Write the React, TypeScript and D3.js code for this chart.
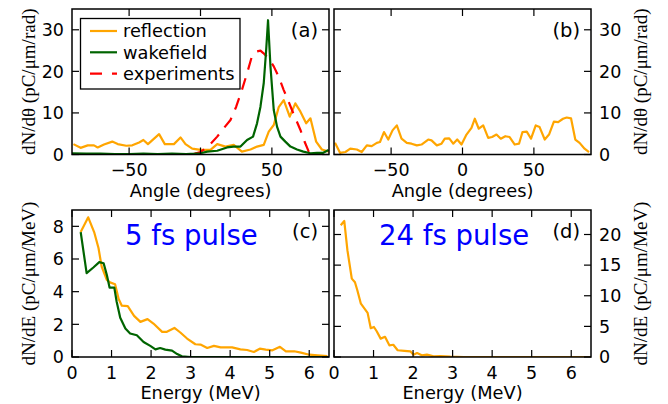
import React from "react";
import * as d3 from "d3";

// ---------- DATA ----------
// Panel (a): angle distribution, 5 fs pulse
const reflA_angle = [-89, -84, -79, -74.6, -72, -67.6, -61.8, -58, -52, -47.8, -43, -40, -36.8, -29, -25, -18.6, -14, -10.5, -5.8, 0, 7, 11.7, 17.5, 23.3, 29, 35, 39.6, 44.3, 47.8, 51.3, 54.8, 58.3, 62.5, 66.4, 70, 74, 77, 81, 85, 90];
const reflA_value = [2.5, 1.6, 2.2, 2.2, 1.7, 2.4, 3.1, 2.5, 2.1, 2.2, 2.9, 3.5, 2.5, 4.9, 2.5, 2.5, 4.1, 2.5, 1.4, 1.1, 1.1, 2.5, 1.9, 2.3, 0.7, 1.2, 1.9, 2.3, 5.5, 7.1, 11.4, 13.1, 9.1, 12.3, 10.3, 7.5, 8.7, 3.1, 1.2, 0.7];

const wakeA_angle = [-90, -80, -70, -60, -50, -40, -30, -20, -10, -4, 0, 4.7, 11.7, 18.6, 23, 28, 32.6, 36.8, 39.6, 42, 44.3, 46, 47.3, 49, 51.3, 53.6, 56, 59.4, 63, 67.6, 72, 77, 81.6, 86, 89.7];
const wakeA_value = [0.3, 0.2, 0.2, 0.1, 0.1, 0.2, 0.1, 0.2, 0.1, 0.2, 0.3, 0.7, 0.9, 1.7, 1.9, 1.9, 3.5, 4.3, 7.5, 11.5, 17.2, 25.2, 32.3, 21.2, 10.7, 6.7, 4.3, 3.1, 1.9, 1.2, 0.7, 0.3, 0.4, 0.4, 1.1];

const expA_angle = [-5, 0, 5, 11.7, 16, 21, 25, 29, 33, 36, 39.6, 42, 44, 48, 51.3, 55, 58.3, 62, 65, 70, 73, 75.8, 78];
const expA_value = [0.1, 0.6, 1.8, 4.3, 6.2, 8.3, 11.5, 15.5, 20, 23.6, 24.8, 25, 24.4, 23, 21.2, 18.5, 15.5, 12.5, 9.9, 5.9, 3, 0.7, 0.1];

// Panel (b): angle distribution, 24 fs pulse
const reflB_angle = [-89.3, -85.8, -82, -78.6, -74, -70.6, -67, -63.6, -60, -57.8, -55, -52, -49, -46, -42.7, -39, -35.7, -32, -28.7, -24, -21.7, -18, -14.7, -12.4, -9.3, -6.5, -3.7, -0.7, 2.8, 6.3, 8.6, 11.4, 14.5, 18, 20.7, 23.8, 26.8, 30, 33, 36.6, 39.6, 42, 45, 48, 51.3, 54, 57.6, 60.6, 64, 67, 70.4, 73, 76, 79, 82, 85.5, 88.6];
const reflB_value = [2.8, 0.4, 0.6, 1.4, 1.2, 0.6, 2.2, 2.0, 2.8, 3.0, 5.4, 3.6, 5.8, 7.0, 3.8, 2.8, 2.6, 2.2, 2.4, 3.6, 3.4, 2.2, 2.6, 3.8, 3.9, 2.6, 3.6, 2.4, 4.8, 6.4, 8.6, 6.2, 7.0, 4.0, 4.2, 4.8, 3.8, 4.4, 4.2, 2.4, 2.6, 5.4, 5.5, 3.8, 7.0, 6.6, 3.6, 4.8, 7.9, 7.8, 8.6, 8.9, 8.7, 3.6, 2.8, 1.4, 0.6];

// Panel (c): energy spectrum, 5 fs pulse
const reflC_energy = [0.22, 0.41, 0.56, 0.67, 0.75, 0.88, 0.96, 1.09, 1.18, 1.26, 1.41, 1.57, 1.73, 1.91, 2.06, 2.28, 2.4, 2.59, 2.74, 2.91, 3.12, 3.25, 3.42, 3.59, 3.76, 4.05, 4.26, 4.43, 4.6, 4.75, 4.9, 5.07, 5.26, 5.41, 5.62, 5.79, 6.0, 6.21, 6.46];
const reflC_value = [7.65, 8.55, 7.65, 6.67, 5.54, 4.72, 4.57, 4.45, 3.55, 3.14, 3.12, 2.52, 2.15, 2.32, 2.05, 1.54, 1.54, 1.78, 1.5, 1.13, 0.78, 0.76, 0.55, 0.68, 0.59, 0.59, 0.47, 0.43, 0.31, 0.51, 0.45, 0.41, 0.62, 0.35, 0.35, 0.27, 0.14, 0.1, 0.06];

const wakeC_energy = [0.22, 0.37, 0.54, 0.69, 0.8, 0.88, 0.95, 1.07, 1.13, 1.22, 1.35, 1.47, 1.64, 1.81, 1.98, 2.11, 2.23, 2.36, 2.53, 2.66, 2.78, 3.0, 4.0, 5.0, 6.0, 6.5];
const wakeC_value = [7.65, 5.13, 5.48, 5.81, 5.74, 5.03, 4.25, 4.25, 3.38, 2.4, 1.74, 1.44, 1.33, 0.92, 0.68, 0.47, 0.55, 0.45, 0.39, 0.18, 0.04, 0, 0, 0, 0, 0];

// Panel (d): energy spectrum, 24 fs pulse
const reflD_energy = [0.17, 0.26, 0.34, 0.45, 0.53, 0.59, 0.68, 0.85, 0.93, 1.01, 1.08, 1.18, 1.29, 1.4, 1.5, 1.61, 1.78, 1.93, 2.01, 2.1, 2.22, 2.35, 2.52, 2.69, 2.94, 3.28, 4.0, 5.0, 6.0, 6.5];
const reflD_value = [21.5, 22.2, 17.4, 12.8, 12.2, 10.9, 8.7, 7.2, 4.7, 4.9, 4.2, 3.0, 3.3, 1.9, 2.0, 1.1, 1.0, 0.93, 0.38, 0.65, 0.27, 0.38, 0.11, 0.16, 0.05, 0, 0, 0, 0, 0];

// Ticks / labels
const angleTicks = [-50, 0, 50];
const angleTicksY = [0, 10, 20, 30];
const energyTicks = [0, 1, 2, 3, 4, 5, 6];
const energyTicksYC = [0, 2, 4, 6, 8];
const energyTicksYD = [0, 5, 10, 15, 20];
const legendLabels = ["reflection", "wakefield", "experiments"];

const ORANGE = "#FFA500";
const GREEN = "#006400";
const RED = "#FF0000";
const BLUE = "#0000FF";
const SANS = "DejaVu Sans";
const SERIF = "Liberation Serif";
const TICK_FS = 17.5;

type Series = { xs: number[]; ys: number[]; color: string; dash?: string };

type PanelProps = {
  id: string;
  x0: number; x1: number; y0: number; y1: number;
  xDomain: [number, number]; yDomain: [number, number];
  xTicks: number[]; yTicks: number[];
  yLabelSide: "left" | "right";
  series: Series[];
  tag: string;
};

const fmt = (v: number) => (v < 0 ? "\u2212" + Math.abs(v) : String(v));

function Panel(p: PanelProps) {
  const xs = d3.scaleLinear().domain(p.xDomain).range([p.x0, p.x1]);
  const ys = d3.scaleLinear().domain(p.yDomain).range([p.y1, p.y0]);
  const tl = 7;
  return (
    <g>
      <defs>
        <clipPath id={"clip-" + p.id}>
          <rect x={p.x0} y={p.y0} width={p.x1 - p.x0} height={p.y1 - p.y0} />
        </clipPath>
      </defs>
      <g clipPath={`url(#clip-${p.id})`}>
        {p.series.map((s, i) => {
          const line = d3
            .line<number>()
            .x((_, j) => xs(s.xs[j]))
            .y((v) => ys(v));
          return (
            <path
              key={i}
              d={line(s.ys) || ""}
              fill="none"
              stroke={s.color}
              strokeWidth={2.2}
              strokeDasharray={s.dash}
              strokeLinejoin="round"
            />
          );
        })}
      </g>
      {p.xTicks.map((t) => (
        <g key={"xt" + t}>
          <line x1={xs(t)} x2={xs(t)} y1={p.y1} y2={p.y1 - tl} stroke="black" strokeWidth={1.2} />
          <line x1={xs(t)} x2={xs(t)} y1={p.y0} y2={p.y0 + tl} stroke="black" strokeWidth={1.2} />
          <text x={xs(t)} y={p.y1 + 21.5} fontFamily={SANS} fontSize={TICK_FS} textAnchor="middle">
            {fmt(t)}
          </text>
        </g>
      ))}
      {p.yTicks.map((t) => (
        <g key={"yt" + t}>
          <line x1={p.x0} x2={p.x0 + tl} y1={ys(t)} y2={ys(t)} stroke="black" strokeWidth={1.2} />
          <line x1={p.x1} x2={p.x1 - tl} y1={ys(t)} y2={ys(t)} stroke="black" strokeWidth={1.2} />
          <text
            x={p.yLabelSide === "left" ? p.x0 - 8 : p.x1 + 8}
            y={ys(t) + 6.3}
            fontFamily={SANS}
            fontSize={TICK_FS}
            textAnchor={p.yLabelSide === "left" ? "end" : "start"}
          >
            {fmt(t)}
          </text>
        </g>
      ))}
      <rect x={p.x0} y={p.y0} width={p.x1 - p.x0} height={p.y1 - p.y0} fill="none" stroke="black" strokeWidth={1.5} />
      <text x={p.x1 - 11} y={p.y0 + 28} fontFamily={SANS} fontSize={19.5} textAnchor="end">
        {p.tag}
      </text>
    </g>
  );
}

export default function App() {
  const A = { x0: 72, x1: 329, y0: 9, y1: 154.5 };
  const B = { x0: 334, x1: 591, y0: 9, y1: 154.5 };
  const C = { x0: 72, x1: 329, y0: 210, y1: 357 };
  const D = { x0: 334, x1: 591, y0: 210, y1: 357 };

  const legendColors = [ORANGE, GREEN, RED];
  const legendDash = [undefined, undefined, "12 10"];

  return (
    <svg width={668} height={404} style={{ position: "absolute", left: 0, top: 0, background: "white" }}>
      <rect x={0} y={0} width={668} height={404} fill="white" />
      <Panel
        id="a" {...A}
        xDomain={[-90, 90]} yDomain={[0, 35]}
        xTicks={angleTicks} yTicks={angleTicksY}
        yLabelSide="left" tag="(a)"
        series={[
          { xs: reflA_angle, ys: reflA_value, color: ORANGE },
          { xs: expA_angle, ys: expA_value, color: RED, dash: "12 9" },
          { xs: wakeA_angle, ys: wakeA_value, color: GREEN },
        ]}
      />
      <Panel
        id="b" {...B}
        xDomain={[-90, 90]} yDomain={[0, 35]}
        xTicks={angleTicks} yTicks={angleTicksY}
        yLabelSide="right" tag="(b)"
        series={[{ xs: reflB_angle, ys: reflB_value, color: ORANGE }]}
      />
      <Panel
        id="c" {...C}
        xDomain={[0, 6.5]} yDomain={[0, 9]}
        xTicks={energyTicks} yTicks={energyTicksYC}
        yLabelSide="left" tag="(c)"
        series={[
          { xs: reflC_energy, ys: reflC_value, color: ORANGE },
          { xs: wakeC_energy, ys: wakeC_value, color: GREEN },
        ]}
      />
      <Panel
        id="d" {...D}
        xDomain={[0, 6.5]} yDomain={[0, 24]}
        xTicks={energyTicks} yTicks={energyTicksYD}
        yLabelSide="right" tag="(d)"
        series={[{ xs: reflD_energy, ys: reflD_value, color: ORANGE }]}
      />

      {/* legend */}
      <g>
        <rect x={80.5} y={18.5} width={159.5} height={70.5} fill="white" stroke="black" strokeWidth={1.3} />
        {legendLabels.map((lab, i) => {
          const cy = 31 + i * 21.3;
          return (
            <g key={lab}>
              <line x1={90} x2={117} y1={cy} y2={cy} stroke={legendColors[i]} strokeWidth={2.2} strokeDasharray={legendDash[i]} />
              <text x={123} y={cy + 6.3} fontFamily={SANS} fontSize={17.8}>{lab}</text>
            </g>
          );
        })}
      </g>

      {/* pulse labels */}
      <text x={125} y={245} fontFamily={SANS} fontSize={27.5} fill={BLUE}>5 fs pulse</text>
      <text x={379} y={245} fontFamily={SANS} fontSize={27.5} fill={BLUE}>24 fs pulse</text>

      {/* axis labels */}
      <text x={(A.x0 + A.x1) / 2} y={197} fontFamily={SANS} fontSize={17.8} textAnchor="middle">Angle (degrees)</text>
      <text x={(B.x0 + B.x1) / 2} y={197} fontFamily={SANS} fontSize={17.8} textAnchor="middle">Angle (degrees)</text>
      <text x={(C.x0 + C.x1) / 2} y={398.5} fontFamily={SANS} fontSize={17.8} textAnchor="middle">Energy (MeV)</text>
      <text x={(D.x0 + D.x1) / 2} y={398.5} fontFamily={SANS} fontSize={17.8} textAnchor="middle">Energy (MeV)</text>

      <text transform={`translate(35,${(A.y0 + A.y1) / 2}) rotate(-90)`} fontFamily={SERIF} fontSize={19} textAnchor="middle">dN/dθ (pC/μm/rad)</text>
      <text transform={`translate(35,${(C.y0 + C.y1) / 2}) rotate(-90)`} fontFamily={SERIF} fontSize={19} textAnchor="middle">dN/dE (pC/μm/MeV)</text>
      <text transform={`translate(647,${(B.y0 + B.y1) / 2}) rotate(-90)`} fontFamily={SERIF} fontSize={19} textAnchor="middle">dN/dθ (pC/μm/rad)</text>
      <text transform={`translate(647,${(D.y0 + D.y1) / 2}) rotate(-90)`} fontFamily={SERIF} fontSize={19} textAnchor="middle">dN/dE (pC/μm/MeV)</text>
    </svg>
  );
}
